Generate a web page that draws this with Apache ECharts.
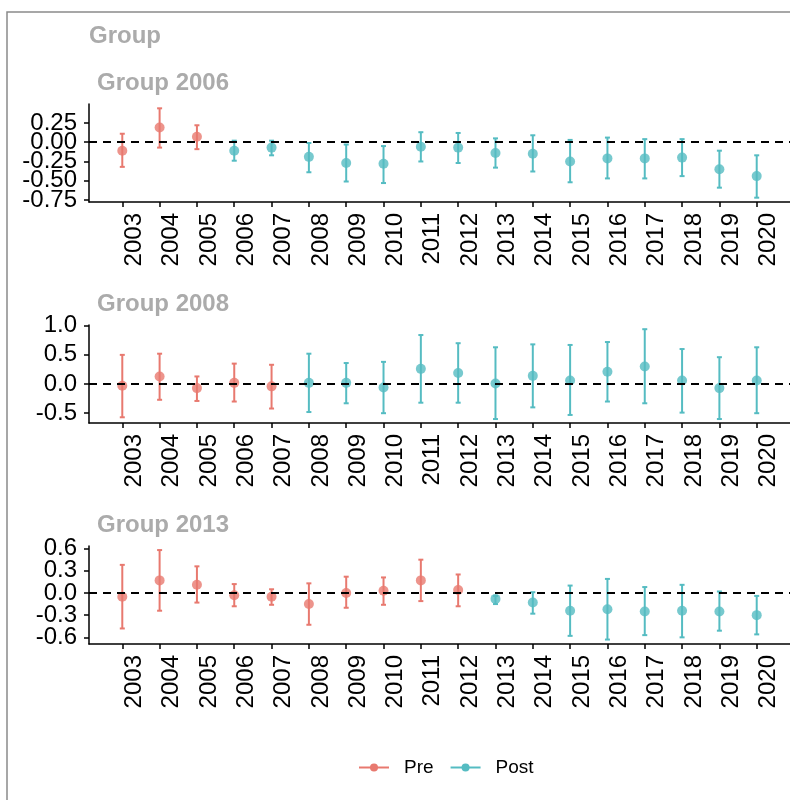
<!DOCTYPE html>
<html>
<head>
<meta charset="utf-8">
<script src="https://cdn.jsdelivr.net/npm/echarts@6/dist/echarts.min.js"></script>
<style>
  html, body { margin: 0; padding: 0; background: #fff; }
  #chart { width: 790px; height: 800px; }
</style>
</head>
<body>
<div id="chart"></div>
<script>
"use strict";
// data
var years = [2003, 2004, 2005, 2006, 2007, 2008, 2009, 2010, 2011, 2012, 2013, 2014, 2015, 2016, 2017, 2018, 2019, 2020];
var groupNames = ['Group 2006', 'Group 2008', 'Group 2013'];
var treatYears = [2006, 2008, 2013];

var est2006 = [-0.11, 0.19, 0.07, -0.11, -0.07, -0.19, -0.27, -0.28, -0.06, -0.07, -0.14, -0.15, -0.25, -0.21, -0.21, -0.20, -0.35, -0.44];
var lo2006  = [-0.32, -0.07, -0.09, -0.24, -0.17, -0.39, -0.51, -0.53, -0.25, -0.27, -0.33, -0.38, -0.52, -0.47, -0.47, -0.44, -0.59, -0.72];
var hi2006  = [0.11, 0.44, 0.22, 0.02, 0.02, -0.01, -0.03, -0.05, 0.13, 0.12, 0.05, 0.09, 0.03, 0.06, 0.04, 0.04, -0.11, -0.17];

var est2008 = [-0.03, 0.13, -0.07, 0.02, -0.04, 0.02, 0.02, -0.06, 0.26, 0.19, 0.01, 0.14, 0.06, 0.21, 0.30, 0.06, -0.07, 0.06];
var lo2008  = [-0.57, -0.27, -0.29, -0.30, -0.42, -0.48, -0.33, -0.50, -0.32, -0.32, -0.60, -0.40, -0.53, -0.30, -0.33, -0.49, -0.60, -0.50];
var hi2008  = [0.50, 0.52, 0.13, 0.35, 0.33, 0.52, 0.36, 0.38, 0.84, 0.70, 0.63, 0.68, 0.67, 0.72, 0.94, 0.60, 0.46, 0.63];

var est2013 = [-0.05, 0.17, 0.11, -0.03, -0.05, -0.15, 0.00, 0.03, 0.17, 0.04, -0.08, -0.13, -0.24, -0.22, -0.25, -0.24, -0.25, -0.30];
var lo2013  = [-0.48, -0.24, -0.13, -0.18, -0.16, -0.43, -0.20, -0.16, -0.11, -0.18, -0.15, -0.28, -0.58, -0.63, -0.57, -0.60, -0.51, -0.56];
var hi2013  = [0.38, 0.58, 0.36, 0.12, 0.05, 0.13, 0.22, 0.21, 0.45, 0.25, -0.04, 0.01, 0.10, 0.19, 0.08, 0.11, 0.02, -0.04];

// y tick labels, split in two alternating sets so none get thinned out
var yTicks2006 = [-0.75, -0.25, 0.25];
var yTicks2006b = [-0.5, 0];
var yTicks2008 = [-0.5, 0, 0.5, 1.0];
var yTicks2008b = [];
var yTicks2013 = [-0.6, 0, 0.6];
var yTicks2013b = [-0.3, 0.3];

var legendNames = ['Pre', 'Post'];

var preColor = '#E8796F';
var postColor = '#55BCC2';
var font = 'Liberation Sans, Arial, sans-serif';

var panels = [
  { est: est2006, lo: lo2006, hi: hi2006, ticks: [yTicks2006, yTicks2006b], digits: 2, min: -0.776, max: 0.496, top: 104 },
  { est: est2008, lo: lo2008, hi: hi2008, ticks: [yTicks2008, yTicks2008b], digits: 1, min: -0.668, max: 1.012, top: 325 },
  { est: est2013, lo: lo2013, hi: hi2013, ticks: [yTicks2013, yTicks2013b], digits: 1, min: -0.69, max: 0.635, top: 546 }
];

var grids = [], xAxes = [], yAxes = [], series = [], titles = [];

titles.push({
  text: 'Group', left: 89, top: 24, padding: 0,
  textStyle: { color: '#ABABAB', fontSize: 24, fontWeight: 'bold', fontFamily: font }
});

panels.forEach(function (p, i) {
  grids.push({ left: 89, right: 0, top: p.top, height: 98 });
  titles.push({
    text: groupNames[i], left: 97, top: p.top - 33, padding: 0,
    textStyle: { color: '#ABABAB', fontSize: 24, fontWeight: 'bold', fontFamily: font }
  });
  xAxes.push({
    type: 'value', gridIndex: i, min: 2002.108, max: 2020.892,
    axisLine: { onZero: false, lineStyle: { color: '#000', width: 1.5 } },
    axisTick: { customValues: years, length: 5, lineStyle: { color: '#000', width: 1.5 } },
    axisLabel: {
      customValues: years, rotate: 90, margin: 11, verticalAlign: 'top',
      fontSize: 24, color: '#000', fontFamily: font,
      formatter: function (v) { return String(v); }
    },
    splitLine: { show: false }
  });
  p.ticks.forEach(function (tk, j) {
    yAxes.push({
      type: 'value', gridIndex: i, min: p.min, max: p.max, position: 'left',
      show: j === 0 || tk.length > 0,
      axisLine: { show: j === 0, onZero: false, lineStyle: { color: '#000', width: 1.5 } },
      axisTick: { show: true, customValues: tk, length: 5, lineStyle: { color: '#000', width: 1.5 } },
      axisLabel: {
        customValues: tk, margin: 12, fontSize: 24,
        color: '#000', fontFamily: font,
        formatter: function (v) { return v.toFixed(p.digits); }
      },
      splitLine: { show: false }
    });
  });

  var bars = [], pts = [];
  years.forEach(function (y, k) {
    var c = y < treatYears[i] ? preColor : postColor;
    bars.push({ value: [y, p.lo[k], p.hi[k]], itemStyle: { color: c } });
    pts.push({ value: [y, p.est[k]], itemStyle: { color: c } });
  });

  var yi = 2 * i;
  // dashed zero line
  series.push({
    type: 'line', xAxisIndex: i, yAxisIndex: yi, data: [], z: 1,
    markLine: {
      silent: true, symbol: ['none', 'none'], label: { show: false },
      lineStyle: { color: '#000', type: [8, 6], width: 1.8 },
      data: [{ yAxis: 0 }]
    }
  });
  series.push({
    type: 'custom', xAxisIndex: i, yAxisIndex: yi, z: 3,
    encode: { x: 0, y: [1, 2] },
    data: bars,
    renderItem: function (params, api) {
      var x = api.value(0);
      var lo = api.coord([x, api.value(1)]);
      var hi = api.coord([x, api.value(2)]);
      var c = api.style().fill;
      var w = 2.5;
      var ls = { stroke: c, lineWidth: 2 };
      return {
        type: 'group',
        children: [
          { type: 'line', shape: { x1: hi[0], y1: hi[1], x2: lo[0], y2: lo[1] }, style: ls },
          { type: 'line', shape: { x1: hi[0] - w, y1: hi[1], x2: hi[0] + w, y2: hi[1] }, style: ls },
          { type: 'line', shape: { x1: lo[0] - w, y1: lo[1], x2: lo[0] + w, y2: lo[1] }, style: ls }
        ]
      };
    }
  });
  series.push({
    type: 'scatter', xAxisIndex: i, yAxisIndex: yi, z: 4,
    symbol: 'circle', symbolSize: 10,
    data: pts
  });
});

// legend-only series
series.push({
  name: legendNames[0], type: 'line', xAxisIndex: 0, yAxisIndex: 0, data: [],
  symbol: 'circle', symbolSize: 8, color: preColor, lineStyle: { width: 2 }
});
series.push({
  name: legendNames[1], type: 'line', xAxisIndex: 0, yAxisIndex: 0, data: [],
  symbol: 'circle', symbolSize: 8, color: postColor, lineStyle: { width: 2 }
});

var chart = echarts.init(document.getElementById('chart'), null, { renderer: 'canvas' });
chart.setOption({
  backgroundColor: '#fff',
  animation: false,
  title: titles,
  legend: {
    data: legendNames, left: 353, top: 753,
    itemWidth: 30, itemHeight: 10, itemGap: 16,
    textStyle: { fontSize: 19, color: '#000', fontFamily: font, padding: [0, 0, 0, 10] }
  },
  graphic: [{
    type: 'rect', silent: true,
    shape: { x: 7, y: 12, width: 800, height: 800 },
    style: { fill: 'none', stroke: '#8A8A8A', lineWidth: 1.5 }
  }],
  grid: grids,
  xAxis: xAxes,
  yAxis: yAxes,
  series: series
});
</script>
</body>
</html>
